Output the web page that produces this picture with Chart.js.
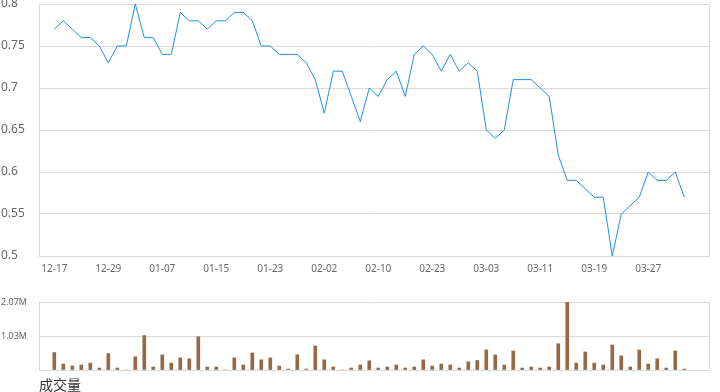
<!DOCTYPE html>
<html>
<head>
<meta charset="utf-8">
<script src="https://cdn.jsdelivr.net/npm/chart.js@4.4.0/dist/chart.umd.min.js"></script>
<style>
  body { margin: 0; background: #fff; }
  #priceChart { position: absolute; left: 0; top: 0; }
  #volChart { position: absolute; left: 0; top: 290px; }
</style>
</head>
<body>
<canvas id="priceChart" width="720" height="285"></canvas>
<canvas id="volChart" width="720" height="102"></canvas>
<script>
  // trading days
  var dates = ['12-17','12-18','12-19','12-22','12-23','12-24','12-29','12-30','12-31','01-02',
               '01-05','01-06','01-07','01-08','01-09','01-12','01-13','01-14','01-15','01-16',
               '01-19','01-20','01-21','01-22','01-23','01-26','01-27','01-28','01-29','01-30',
               '02-02','02-03','02-04','02-05','02-06','02-09','02-10','02-11','02-12','02-13',
               '02-16','02-17','02-23','02-24','02-25','02-26','02-27','03-02','03-03','03-04',
               '03-05','03-06','03-09','03-10','03-11','03-12','03-13','03-16','03-17','03-18',
               '03-19','03-20','03-23','03-24','03-25','03-26','03-27','03-30','03-31','04-01',
               '04-02'];

  var prices = [0.77,0.78,0.77,0.76,0.76,0.75,0.73,0.75,0.75,0.80,
                0.76,0.76,0.74,0.74,0.79,0.78,0.78,0.77,0.78,0.78,
                0.79,0.79,0.78,0.75,0.75,0.74,0.74,0.74,0.73,0.71,
                0.67,0.72,0.72,0.69,0.66,0.70,0.69,0.71,0.72,0.69,
                0.74,0.75,0.74,0.72,0.74,0.72,0.73,0.72,0.65,0.64,
                0.65,0.71,0.71,0.71,0.70,0.69,0.62,0.59,0.59,0.58,
                0.57,0.57,0.50,0.55,0.56,0.57,0.60,0.59,0.59,0.60,
                0.57];

  // volume in millions
  var volumes = [0.53,0.18,0.12,0.15,0.21,0.06,0.50,0.06,0,0.40,
                 1.05,0.09,0.46,0.21,0.37,0.34,1.01,0.09,0.09,0,
                 0.37,0.15,0.52,0.31,0.37,0.12,0.03,0.46,0.03,0.73,
                 0.31,0.09,0,0.06,0.15,0.28,0.06,0.09,0.15,0.06,
                 0.09,0.31,0.12,0.18,0.15,0.06,0.25,0.29,0.61,0.46,
                 0.15,0.58,0.06,0.09,0.06,0.09,0.80,2.07,0.21,0.55,
                 0.21,0.15,0.76,0.43,0.09,0.61,0.18,0.34,0.06,0.58,
                 0.03];

  var dateTicks = ['12-17','12-29','01-07','01-15','01-23','02-02','02-10','02-23','03-03','03-11','03-19','03-27'];
  var priceTicks = [0.5, 0.55, 0.6, 0.65, 0.7, 0.75, 0.8];
  var priceTickLabels = ['0.5','0.55','0.6','0.65','0.7','0.75','0.8'];
  var volTicks = [0, 1.035, 2.07];
  var volTickLabels = ['', '1.03M', '2.07M'];

  var gridColor = '#dadada';
  var xMin = -1.7, xMax = 72.75;

  function toPoints(arr) {
    return arr.map(function(v, i) { return { x: i, y: v }; });
  }

  function noPad(scale) {
    scale.paddingTop = 0; scale.paddingBottom = 0;
    scale.paddingLeft = 0; scale.paddingRight = 0;
  }

  var rightBorder = {
    position: 'right', min: 0, max: 1,
    ticks: { display: false },
    grid: { display: false, drawTicks: false },
    border: { display: true, color: gridColor },
    afterFit: function(s) { s.width = 0; noPad(s); }
  };

  new Chart(document.getElementById('priceChart').getContext('2d'), {
    type: 'line',
    data: {
      datasets: [{
        data: toPoints(prices),
        borderColor: '#1f8fe3',
        borderWidth: 1,
        pointRadius: 0,
        fill: false,
        tension: 0
      }]
    },
    options: {
      responsive: false,
      animation: false,
      layout: { padding: { top: 4, left: 1, right: 11, bottom: 0 } },
      plugins: { legend: { display: false }, tooltip: { enabled: false } },
      scales: {
        x: {
          type: 'linear', min: xMin, max: xMax,
          grid: { display: false, drawTicks: false },
          border: { display: false },
          ticks: {
            padding: 7, maxRotation: 0, autoSkip: false,
            color: '#666', font: { family: 'Noto Sans', size: 10 },
            callback: function(v) { return dates[v]; }
          },
          afterBuildTicks: function(s) {
            s.ticks = dateTicks.map(function(d) { return { value: dates.indexOf(d) }; });
          },
          afterFit: function(s) { s.height = 29; noPad(s); }
        },
        y: {
          min: 0.5, max: 0.8,
          grid: { color: gridColor, drawTicks: false },
          border: { display: true, color: gridColor },
          ticks: {
            crossAlign: 'far', padding: 0,
            color: '#666', font: { family: 'Noto Sans', size: 12 },
            callback: function(v) { return priceTickLabels[priceTicks.indexOf(v)]; }
          },
          afterBuildTicks: function(s) {
            s.ticks = priceTicks.map(function(v) { return { value: v }; });
          },
          afterFit: function(s) { s.width = 38; noPad(s); }
        },
        y2: rightBorder
      }
    }
  });

  new Chart(document.getElementById('volChart').getContext('2d'), {
    type: 'bar',
    data: {
      datasets: [{
        data: toPoints(volumes),
        backgroundColor: '#966946',
        barThickness: 3
      }]
    },
    options: {
      responsive: false,
      animation: false,
      layout: { padding: { top: 12, left: 1, right: 11, bottom: 0 } },
      plugins: { legend: { display: false }, tooltip: { enabled: false } },
      scales: {
        x: {
          type: 'linear', min: xMin, max: xMax, offset: false,
          grid: { display: false, drawTicks: false },
          border: { display: false },
          ticks: { display: false },
          title: {
            display: true, text: '成交量', align: 'start', padding: 0,
            color: '#333', font: { family: 'Noto Sans CJK SC', size: 14, lineHeight: 1 }
          },
          afterFit: function(s) { s.height = 22; noPad(s); }
        },
        y: {
          min: 0, max: 2.07,
          grid: { color: gridColor, drawTicks: false },
          border: { display: true, color: gridColor },
          ticks: {
            crossAlign: 'far', padding: 0,
            color: '#666', font: { family: 'Noto Sans', size: 9 },
            callback: function(v) { return volTickLabels[volTicks.indexOf(v)]; }
          },
          afterBuildTicks: function(s) {
            s.ticks = volTicks.map(function(v) { return { value: v }; });
          },
          afterFit: function(s) { s.width = 38; noPad(s); }
        },
        y2: rightBorder
      }
    }
  });
</script>
</body>
</html>
